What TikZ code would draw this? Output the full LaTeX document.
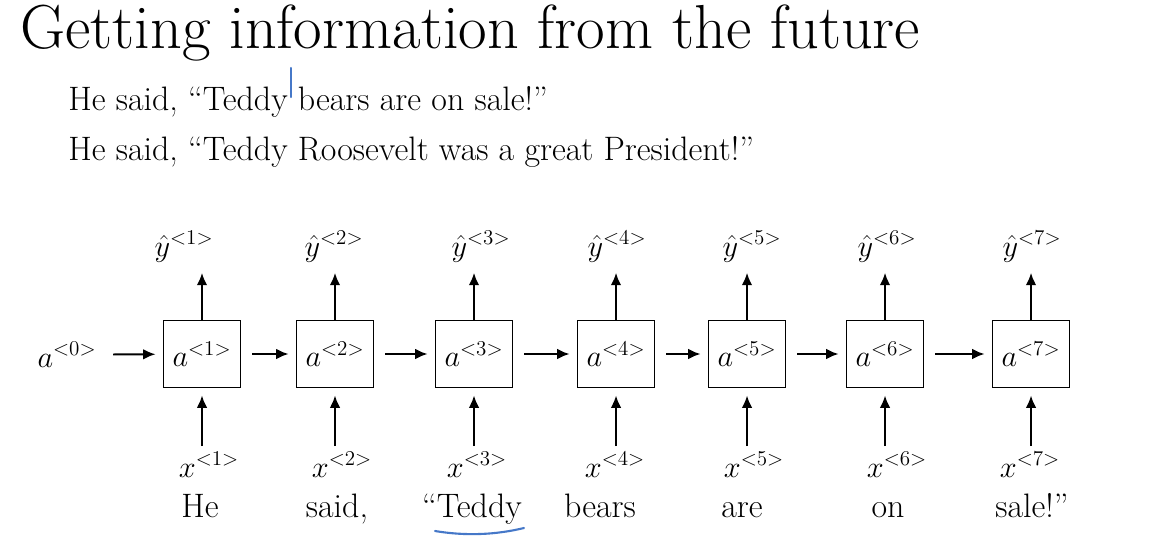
\documentclass[tikz,border=0pt]{standalone}
\usepackage{xcolor}
\usepackage{tikz}
\usepackage{amsmath}
\usetikzlibrary{arrows.meta}
\definecolor{pen}{RGB}{70,120,200}

\begin{document}
\begin{tikzpicture}[
    x=0.02cm, y=-0.02cm,
    box/.style={rectangle, draw, line width=1.1pt, minimum width=1.54cm, minimum height=1.34cm, font=\fontsize{17.5}{20}\selectfont},
    arrow/.style={-{Latex[length=7pt,width=6pt]}, line width=1.1pt, shorten >=4pt},
    heading/.style={anchor=base west, inner sep=0pt, font=\fontsize{35.4}{42}\selectfont},
    sentence/.style={anchor=base west, inner sep=0pt, font=\fontsize{19.3}{23}\selectfont},
    var/.style={anchor=base, font=\fontsize{17.5}{20}\selectfont},
    word/.style={anchor=base, font=\fontsize{19.3}{23}\selectfont},
    ink/.style={draw=pen, line width=1.2pt, line cap=round},
]
    \useasboundingbox (0,0) rectangle (1151,552);

    % Title and sentences
    \node[heading] (title) at (20,48) {Getting information from the future};
    \node[sentence] (s1) at (68,110) {He said, ``Teddy bears are on sale!''};
    \node[sentence] (s2) at (68,160) {He said, ``Teddy Roosevelt was a great President!''};

    % RNN cells
    \node[box] (b1) at (202,354) {$a^{<1>}$};
    \node[box] (b2) at (335,354) {$a^{<2>}$};
    \node[box] (b3) at (474,354) {$a^{<3>}$};
    \node[box] (b4) at (616,354) {$a^{<4>}$};
    \node[box] (b5) at (747,354) {$a^{<5>}$};
    \node[box] (b6) at (885,354) {$a^{<6>}$};
    \node[box] (b7) at (1031,354) {$a^{<7>}$};

    % Initial activation
    \node[var] (a0) at (67,367) {$a^{<0>}$};

    % Outputs
    \node[var, inner sep=2pt] (y1) at (184,256) {$\hat{y}^{<1>}$};
    \node[var, inner sep=2pt] (y2) at (334,256) {$\hat{y}^{<2>}$};
    \node[var, inner sep=2pt] (y3) at (481,256) {$\hat{y}^{<3>}$};
    \node[var, inner sep=2pt] (y4) at (617,256) {$\hat{y}^{<4>}$};
    \node[var, inner sep=2pt] (y5) at (752,256) {$\hat{y}^{<5>}$};
    \node[var, inner sep=2pt] (y6) at (887,256) {$\hat{y}^{<6>}$};
    \node[var, inner sep=2pt] (y7) at (1032,256) {$\hat{y}^{<7>}$};

    % Inputs
    \node[var] (x1) at (209,477) {$x^{<1>}$};
    \node[var] (x2) at (342,477) {$x^{<2>}$};
    \node[var] (x3) at (477,477) {$x^{<3>}$};
    \node[var] (x4) at (615,477) {$x^{<4>}$};
    \node[var] (x5) at (754,477) {$x^{<5>}$};
    \node[var] (x6) at (897,477) {$x^{<6>}$};
    \node[var] (x7) at (1030,477) {$x^{<7>}$};

    % Words
    \node[word] (w1) at (200,517) {He};
    \node[word] (w2) at (337,517) {said,};
    \node[word] (w3) at (472,517) {``Teddy};
    \node[word] (w4) at (600,517) {bears};
    \node[word] (w5) at (742,517) {are};
    \node[word] (w6) at (888,517) {on};
    \node[word] (w7) at (1032,517) {sale!''};

    % Arrows
    \draw[arrow, shorten <=6pt] (a0) -- (b1);
    \draw[arrow, shorten <=6pt] (b1) -- (b2);
    \draw[arrow, shorten <=6pt] (b2) -- (b3);
    \draw[arrow, shorten <=6pt] (b3) -- (b4);
    \draw[arrow, shorten <=6pt] (b4) -- (b5);
    \draw[arrow, shorten <=6pt] (b5) -- (b6);
    \draw[arrow, shorten <=6pt] (b6) -- (b7);
    \draw[arrow] (b1.north) -- (b1.north |- y1.south);
    \draw[arrow] (b2.north) -- (b2.north |- y2.south);
    \draw[arrow] (b3.north) -- (b3.north |- y3.south);
    \draw[arrow] (b4.north) -- (b4.north |- y4.south);
    \draw[arrow] (b5.north) -- (b5.north |- y5.south);
    \draw[arrow] (b6.north) -- (b6.north |- y6.south);
    \draw[arrow] (b7.north) -- (b7.north |- y7.south);
    \draw[arrow] (b1.south |- x1.north) -- (b1.south);
    \draw[arrow] (b2.south |- x2.north) -- (b2.south);
    \draw[arrow] (b3.south |- x3.north) -- (b3.south);
    \draw[arrow] (b4.south |- x4.north) -- (b4.south);
    \draw[arrow] (b5.south |- x5.north) -- (b5.south);
    \draw[arrow] (b6.south |- x6.north) -- (b6.south);
    \draw[arrow] (b7.south |- x7.north) -- (b7.south);

    % Pen marks
    \draw[ink] (291,68) -- (291,97);
    \draw[ink] (435,531) .. controls (465,536) and (495,535) .. (524,528);
\end{tikzpicture}
\end{document}
